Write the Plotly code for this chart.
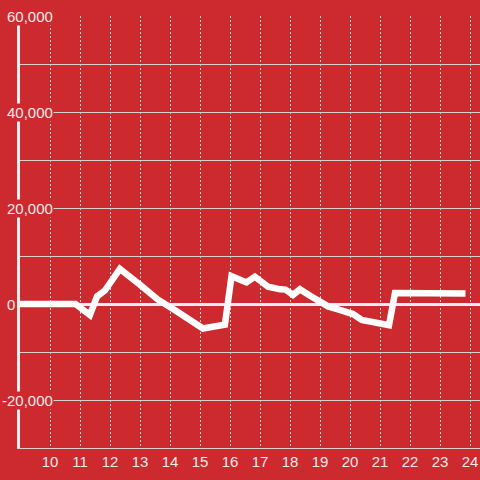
import plotly.graph_objects as go

# Data (hour of day, value)
hours = [9.0, 10.85, 11.33, 11.57, 11.83, 12.33, 13.0, 13.6, 14.17, 14.67,
         15.1, 15.47, 15.83, 16.05, 16.55, 16.83, 17.27, 17.67, 17.85, 18.1,
         18.33, 18.67, 18.93, 19.27, 19.6, 19.89, 20.1, 20.39, 20.72, 21.06,
         21.3, 21.5, 23.85]
values = [0, 0, -2300, 1600, 2800, 7300, 4000, 900, -1300, -3400,
          -5100, -4700, -4300, 5800, 4500, 5700, 3600, 3050, 3000, 1900,
          3050, 1700, 800, -500, -1100, -1600, -2100, -3300, -3700, -4400,
          -4400, 2300, 2200]

x_ticks = list(range(10, 25))
y_ticks = [-20000, 0, 20000, 40000, 60000]
y_tick_labels = ["-20,000", "0", "20,000", "40,000", "60,000"]

BG = "#cd2a2f"
TXT = "#f0e8e8"
GRID = "#d6d0d0"
FONT = "Liberation Sans, Arial, sans-serif"
FS = 15

fig = go.Figure()
fig.add_trace(go.Scatter(
    x=hours, y=values, mode="lines",
    line=dict(color="#ffffff", width=6.5),
    hoverinfo="skip", showlegend=False,
))

annotations = []
for v, lab in zip(y_ticks, y_tick_labels):
    annotations.append(dict(
        xref="paper", yref="y", x=0, y=v,
        xshift=-14 - (5 if lab.startswith("-") else 0),
        xanchor="left", yanchor="middle",
        text=lab, showarrow=False,
        font=dict(family=FONT, size=FS, color=TXT),
        bgcolor=BG, borderpad=0,
    ))

fig.update_layout(
    width=480, height=480,
    margin=dict(l=20, r=0, t=16, b=32),
    paper_bgcolor=BG, plot_bgcolor=BG,
    font=dict(family=FONT, size=FS, color=TXT),
    annotations=annotations,
    xaxis=dict(
        range=[9, 9 + 460 / 30],
        tickmode="array", tickvals=x_ticks,
        ticktext=[str(t) for t in x_ticks],
        showgrid=True, gridcolor=GRID, gridwidth=1, griddash="2px,2px",
        zeroline=False,
        showline=True, linecolor=GRID, linewidth=1,
        ticks="", tickfont=dict(family=FONT, size=FS, color=TXT),
        fixedrange=True,
    ),
    yaxis=dict(
        range=[-30000, 60000],
        tickmode="linear", tick0=0, dtick=10000,
        showticklabels=False,
        showgrid=True, gridcolor=GRID, gridwidth=1,
        zeroline=True, zerolinecolor="#eeeeee", zerolinewidth=3,
        showline=True, linecolor="#eeeeee", linewidth=3,
        ticks="",
        fixedrange=True,
    ),
)

fig.write_html(
    "out.html",
    config={"displayModeBar": False},
    post_script="document.body.style.margin='0';document.body.style.overflow='hidden';",
)
